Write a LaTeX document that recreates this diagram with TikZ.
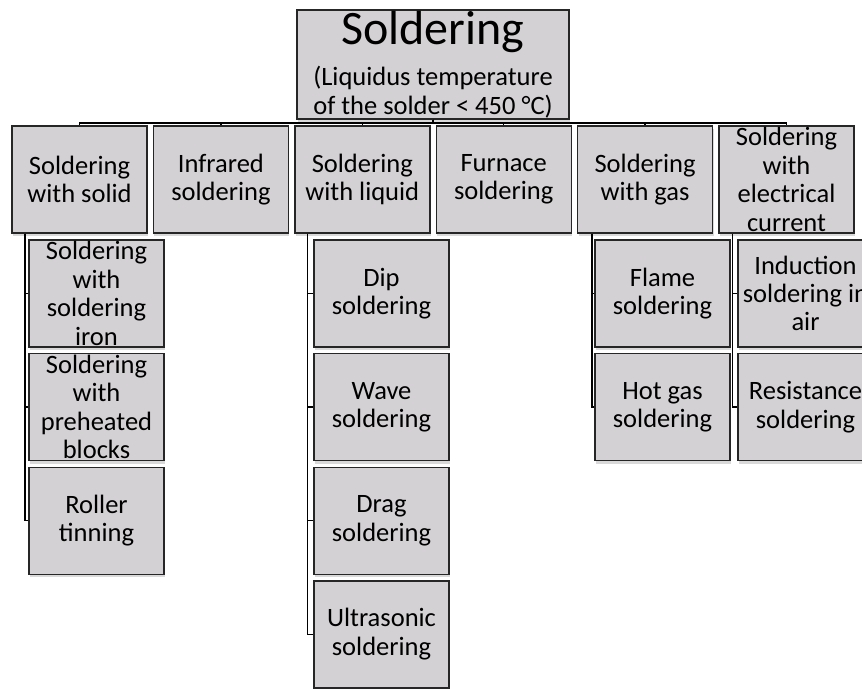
\documentclass[tikz,border=0pt]{standalone}
\usepackage{fontspec}
\setmainfont{Carlito}
\usepackage{tikz}
\usetikzlibrary{shadows}
\definecolor{boxgray}{RGB}{212,209,212}
\tikzstyle{box} = [draw=black!85, line width=1.4pt, fill=boxgray, minimum width=135pt, minimum height=107pt, inner sep=0pt, drop shadow={shadow xshift=1pt, shadow yshift=-3pt, opacity=0.3}, font=\fontsize{26.5}{28.4}\selectfont]
\tikzstyle{link} = [line width=1.5pt]
\newcommand{\boxtext}[1]{\parbox[c][0pt][c]{135pt}{\centering\vspace*{6pt}#1}}

\begin{document}
\begin{tikzpicture}[x=1pt, y=1pt]
	\useasboundingbox (0,0) rectangle (862,-688);
	\clip (0,0) rectangle (862,-688);

	\node[box, minimum width=272pt, minimum height=109pt](top) at (433,-64.5){\parbox[c][0pt][c]{272pt}{\centering\vspace*{6pt}{\fontsize{48}{50}\selectfont Soldering\par}\vspace{13pt}(Liquidus temperature\\of the solder < 450 °C)}};

	\node[box](sol) at (79.5,-179.5){\boxtext{Soldering\\with solid}};
	\node[box](ir) at (220.9,-179.5){\boxtext{Infrared\\soldering}};
	\node[box](liq) at (362.3,-179.5){\boxtext{Soldering\\with liquid}};
	\node[box](furn) at (503.7,-179.5){\boxtext{Furnace\\soldering}};
	\node[box](gas) at (645.1,-179.5){\boxtext{Soldering\\with gas}};
	\node[box](elec) at (786.5,-179.5){\boxtext{Soldering\\with\\electrical\\current}};

	\node[box](iron) at (96.5,-293.5){\boxtext{Soldering\\with\\soldering\\iron}};
	\node[box](blocks) at (96.5,-407.1){\boxtext{Soldering\\with\\preheated\\blocks}};
	\node[box](roller) at (96.5,-520.7){\boxtext{Roller\\tinning}};

	\node[box](dip) at (381.5,-293.5){\boxtext{Dip\\soldering}};
	\node[box](wave) at (381.5,-407.1){\boxtext{Wave\\soldering}};
	\node[box](drag) at (381.5,-520.7){\boxtext{Drag\\soldering}};
	\node[box](ultra) at (381.5,-634.3){\boxtext{Ultrasonic\\soldering}};

	\node[box](flame) at (662.5,-293.5){\boxtext{Flame\\soldering}};
	\node[box](hotgas) at (662.5,-407.1){\boxtext{Hot gas\\soldering}};

	\node[box](induct) at (805.5,-293.5){\boxtext{Induction\\soldering in\\air}};
	\node[box](resist) at (805.5,-407.1){\boxtext{Resistance\\soldering}};

	\draw[link](top.south) -- ++(0,-3.5) -| (sol.north);
	\draw[link](top.south) -- ++(0,-3.5) -| (ir.north);
	\draw[link](top.south) -- ++(0,-3.5) -| (liq.north);
	\draw[link](top.south) -- ++(0,-3.5) -| (furn.north);
	\draw[link](top.south) -- ++(0,-3.5) -| (gas.north);
	\draw[link](top.south) -- ++(0,-3.5) -| (elec.north);

	\draw[link]([xshift=13.5pt]sol.south west) |- (iron.west);
	\draw[link]([xshift=13.5pt]sol.south west) |- (blocks.west);
	\draw[link]([xshift=13.5pt]sol.south west) |- (roller.west);
	\draw[link]([xshift=13.5pt]liq.south west) |- (dip.west);
	\draw[link]([xshift=13.5pt]liq.south west) |- (wave.west);
	\draw[link]([xshift=13.5pt]liq.south west) |- (drag.west);
	\draw[link]([xshift=13.5pt]liq.south west) |- (ultra.west);
	\draw[link]([xshift=15pt]gas.south west) |- (flame.west);
	\draw[link]([xshift=15pt]gas.south west) |- (hotgas.west);
	\draw[link]([xshift=14pt]elec.south west) |- (induct.west);
	\draw[link]([xshift=14pt]elec.south west) |- (resist.west);
\end{tikzpicture}
\end{document}
